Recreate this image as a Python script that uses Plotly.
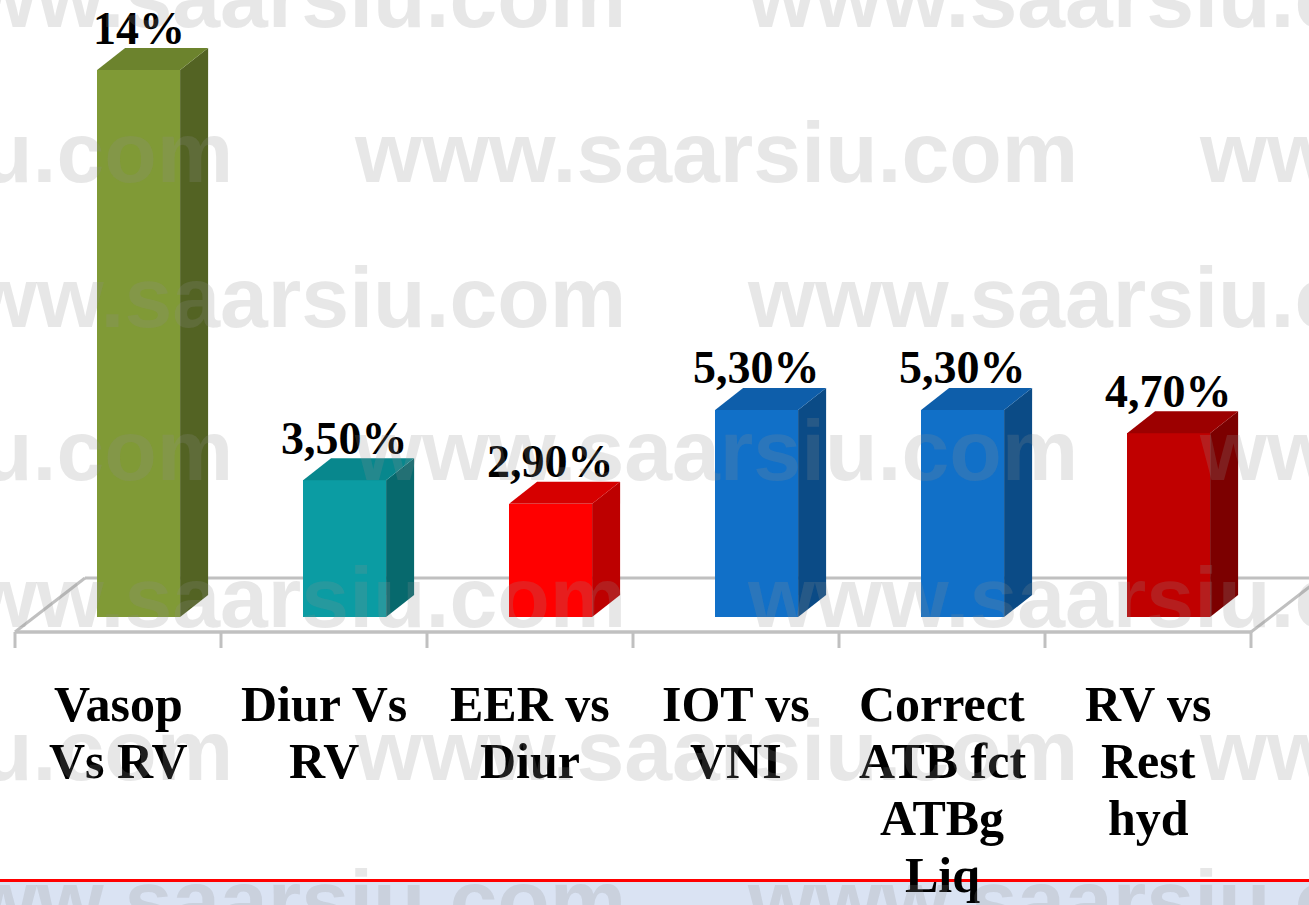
import plotly.graph_objects as go

# ---------------- data ----------------
categories = [
    ["Vasop", "Vs RV"],
    ["Diur Vs", "RV"],
    ["EER vs", "Diur"],
    ["IOT vs", "VNI"],
    ["Correct", "ATB fct", "ATBg", "Liq"],
    ["RV vs", "Rest", "hyd"],
]
values = [14, 3.5, 2.9, 5.3, 5.3, 4.7]
value_labels = ["14%", "3,50%", "2,90%", "5,30%", "5,30%", "4,70%"]

# ---------------- styles ----------------
front_colors = ["#809a36", "#0b9ca3", "#ff0000", "#1170c8", "#1170c8", "#c00000"]
side_colors = ["#536323", "#07696d", "#bd0000", "#0b4b86", "#0b4b86", "#7c0000"]
top_colors = ["#6c832d", "#08878d", "#d60000", "#0e5eaa", "#0e5eaa", "#9c0000"]

W, H = 1309, 905
CAT_PX = 206.0      # pixels per category
CAT0_PX = 118.0     # pixel x of first category centre
Y0_PX = 617.0       # pixel y of value 0
PXU = 39.07         # pixels per value unit


def xu(px):
    return (px - CAT0_PX) / CAT_PX


def yu(py):
    return (Y0_PX - py) / PXU


BAR_OFF = 0.10           # front face centre offset (category units)
BAR_W = 83 / CAT_PX      # front face width
DX = 28 / CAT_PX         # depth in x
DY = 22 / PXU            # depth in y

fig = go.Figure()

xs = [i + BAR_OFF for i in range(len(values))]
fig.add_trace(go.Bar(
    x=xs, y=values, width=BAR_W, base=0,
    marker=dict(color=front_colors, line=dict(width=0)),
    hoverinfo="skip", showlegend=False,
))

for i, v in enumerate(values):
    xl = xs[i] - BAR_W / 2
    xr = xs[i] + BAR_W / 2
    # side face
    fig.add_trace(go.Scatter(
        x=[xr, xr + DX, xr + DX, xr, xr],
        y=[0, DY, v + DY, v, 0],
        fill="toself", fillcolor=side_colors[i], mode="lines",
        line=dict(width=0), hoverinfo="skip", showlegend=False,
    ))
    # top face
    fig.add_trace(go.Scatter(
        x=[xl, xr, xr + DX, xl + DX, xl],
        y=[v, v, v + DY, v + DY, v],
        fill="toself", fillcolor=top_colors[i], mode="lines",
        line=dict(width=0), hoverinfo="skip", showlegend=False,
    ))

shapes = []
floor_col = "#c0c0c0"
fx0, fx1 = -0.5, len(values) - 0.5
fy_front = yu(632)
fdx = 70 / CAT_PX
fdy = 54 / PXU


def ln(x0, y0, x1, y1, w=3, c=floor_col):
    return dict(type="line", xref="x", yref="y", x0=x0, y0=y0, x1=x1, y1=y1,
                line=dict(color=c, width=w), layer="below")


shapes.append(ln(fx0, fy_front, fx1, fy_front, 3.5))
shapes.append(ln(fx0 + fdx, fy_front + fdy, fx1 + fdx, fy_front + fdy))
shapes.append(ln(fx0, fy_front, fx0 + fdx, fy_front + fdy))
shapes.append(ln(fx1, fy_front, fx1 + fdx, fy_front + fdy))
for k in range(len(values) + 1):
    shapes.append(ln(k - 0.5, fy_front, k - 0.5, yu(648)))

# bottom band
shapes.append(dict(type="rect", xref="paper", yref="paper", x0=0, x1=1,
                   y0=0, y1=(H - 881) / H, fillcolor="#dae3f3",
                   line=dict(width=0), layer="below"))
shapes.append(dict(type="line", xref="paper", yref="paper", x0=0, x1=1,
                   y0=(H - 880.5) / H, y1=(H - 880.5) / H,
                   line=dict(color="#ff0000", width=3), layer="below"))

annotations = []
serif = "Liberation Serif"

# value labels
for i, v in enumerate(values):
    annotations.append(dict(
        x=xs[i], y=v + DY + (4 + 16) / PXU, xref="x", yref="y",
        text=value_labels[i], showarrow=False, xanchor="center", yanchor="middle",
        font=dict(family=serif, size=46, color="#000000", weight="bold"),
    ))

# category labels
baselines = [721, 778, 835, 892]
for i, lines in enumerate(categories):
    for j, t in enumerate(lines):
        cy = baselines[j] - 17
        annotations.append(dict(
            x=(CAT0_PX + CAT_PX * i) / W, y=1 - cy / H, xref="paper", yref="paper",
            text=t, showarrow=False, xanchor="center", yanchor="middle",
            font=dict(family=serif, size=50, color="#000000", weight="bold"),
        ))

# watermark rows
wm_rows = [(27, [-100, 745]), (182, [-493, 352, 1197]), (327, [-100, 745]),
           (480, [-493, 352, 1197]), (627, [-100, 745]), (780, [-493, 352, 1197]),
           (930, [-100, 745])]
for base, starts in wm_rows:
    cy = base - 30
    for sx in starts:
        annotations.append(dict(
            x=sx / W, y=1 - cy / H, xref="paper", yref="paper",
            text="www.saarsiu.com", showarrow=False, xanchor="left", yanchor="middle",
            font=dict(family="Liberation Sans", size=86, color="rgba(143,143,143,0.21)",
                      weight="bold"),
        ))

fig.update_layout(
    width=W, height=H, autosize=False,
    margin=dict(l=0, r=0, t=0, b=0, pad=0),
    paper_bgcolor="#ffffff", plot_bgcolor="rgba(0,0,0,0)",
    xaxis=dict(range=[xu(0), xu(W)], visible=False, fixedrange=True),
    yaxis=dict(range=[yu(H), yu(0)], visible=False, fixedrange=True),
    shapes=shapes, annotations=annotations, bargap=0,
    showlegend=False,
)

fig.write_html("out.html", config={"displayModeBar": False},
               post_script="document.body.style.margin='0px';")
